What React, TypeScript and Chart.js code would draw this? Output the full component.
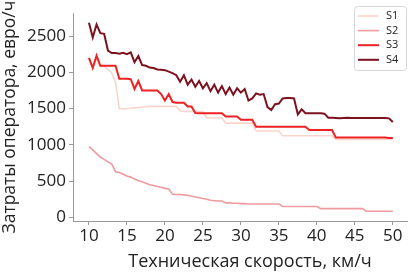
import React, { useEffect, useRef } from 'react';
import { Chart, registerables } from 'chart.js';

Chart.register(...registerables);

const speeds = [
  10, 10.5, 11, 11.5, 12, 12.5, 13, 13.5, 14, 14.5,
  15, 15.5, 16, 16.5, 17, 17.5, 18, 18.5, 19, 19.5,
  20, 20.5, 21, 21.5, 22, 22.5, 23, 23.5, 24, 24.5,
  25, 25.5, 26, 26.5, 27, 27.5, 28, 28.5, 29, 29.5,
  30, 30.5, 31, 31.5, 32, 32.5, 33, 33.5, 34, 34.5,
  35, 35.5, 36, 36.5, 37, 37.5, 38, 38.5, 39, 39.5,
  40, 40.5, 41, 41.5, 42, 42.5, 43, 43.5, 44, 44.5,
  45, 45.5, 46, 46.5, 47, 47.5, 48, 48.5, 49, 49.5,
  50,
];

const s1 = [
  2190, 2060, 2200, 2080, 2080, 2040, 1990, 1860, 1500, 1495,
  1500, 1505, 1510, 1515, 1520, 1525, 1530, 1530, 1530, 1530,
  1530, 1530, 1530, 1530, 1470, 1460, 1460, 1460, 1460, 1460,
  1460, 1370, 1370, 1370, 1370, 1370, 1300, 1300, 1300, 1300,
  1300, 1300, 1300, 1300, 1190, 1190, 1190, 1190, 1190, 1190,
  1190, 1125, 1125, 1125, 1125, 1125, 1125, 1125, 1125, 1125,
  1125, 1125, 1125, 1125, 1125, 1075, 1075, 1075, 1075, 1075,
  1075, 1075, 1075, 1075, 1075, 1075, 1075, 1075, 1075, 1075,
  1075,
];

const s2 = [
  975, 930, 880, 830, 800, 765, 735, 630, 620, 595,
  570, 555, 530, 505, 490, 470, 450, 440, 425, 415,
  400, 390, 320, 315, 315, 310, 305, 290, 280, 270,
  260, 250, 235, 230, 225, 225, 200, 200, 195, 195,
  190, 190, 185, 185, 185, 185, 185, 185, 185, 185,
  185, 150, 150, 150, 150, 150, 150, 150, 150, 150,
  150, 120, 120, 120, 120, 120, 120, 120, 120, 120,
  120, 120, 120, 85, 85, 85, 85, 85, 85, 85,
  85,
];

const s3 = [
  2200, 2060, 2230, 2090, 2090, 2090, 2090, 2090, 1910, 1910,
  1910, 1905, 1770, 1880, 1750, 1750, 1750, 1750, 1750, 1700,
  1610, 1700, 1590, 1580, 1580, 1580, 1530, 1530, 1440, 1435,
  1435, 1435, 1435, 1435, 1435, 1435, 1390, 1390, 1390, 1390,
  1345, 1345, 1345, 1345, 1250, 1250, 1250, 1250, 1250, 1250,
  1250, 1250, 1250, 1250, 1250, 1250, 1250, 1250, 1205, 1205,
  1205, 1205, 1205, 1205, 1205, 1100, 1100, 1100, 1100, 1100,
  1100, 1100, 1100, 1100, 1100, 1100, 1100, 1100, 1100, 1095,
  1095,
];

const s4 = [
  2685, 2480, 2660, 2540, 2530, 2300, 2265, 2265, 2255, 2270,
  2250, 2275, 2140, 2225, 2100, 2090, 2065, 2060, 2040, 2035,
  2030, 2010, 1990, 1960, 1870, 1960, 1830, 1900, 1800, 1880,
  1780, 1850, 1740, 1830, 1720, 1810, 1700, 1790, 1690, 1780,
  1720, 1770, 1610, 1640, 1710, 1690, 1700, 1520, 1480, 1560,
  1570, 1640, 1645, 1645, 1640, 1420, 1490, 1435, 1435, 1435,
  1435, 1435, 1430, 1375, 1375, 1370, 1365, 1370, 1375, 1370,
  1370, 1370, 1370, 1370, 1370, 1370, 1370, 1370, 1370, 1365,
  1315,
];

const seriesNames = ['S1', 'S2', 'S3', 'S4'];
const seriesValues = [s1, s2, s3, s4];
const seriesColors = ['#f9d6cc', '#ee9a9e', '#ee2222', '#7c1220'];
const seriesWidths = [1.6, 1.6, 2, 2];

const yTicks = [0, 500, 1000, 1500, 2000, 2500];
const xTicks = [10, 15, 20, 25, 30, 35, 40, 45, 50];

const xTitle = 'Техническая скорость, км/ч';
const yTitle = 'Затраты оператора, евро/ч';

const FONT = "'Open Sans', 'DejaVu Sans', sans-serif";
const AXIS_COLOR = '#9a9a9a';
const TEXT_COLOR = '#222222';

const legendPlugin = {
  id: 'insideLegend',
  afterDraw(chart: any) {
    const ctx = chart.ctx as CanvasRenderingContext2D;
    // x-axis title, centred under the full (uncropped) axes
    ctx.save();
    ctx.fillStyle = TEXT_COLOR;
    ctx.font = `18px ${FONT}`;
    ctx.textAlign = 'center';
    ctx.textBaseline = 'middle';
    ctx.fillText(xTitle, 250, 262);
    ctx.restore();

    const left = 354;
    const top = 6;
    const w = 52;
    const h = 64;
    ctx.save();
    ctx.fillStyle = 'rgba(255,255,255,0.85)';
    ctx.strokeStyle = '#d6d6d6';
    ctx.lineWidth = 1;
    const r = 3;
    ctx.beginPath();
    ctx.moveTo(left + r + 0.5, top + 0.5);
    ctx.lineTo(left + w - r + 0.5, top + 0.5);
    ctx.quadraticCurveTo(left + w + 0.5, top + 0.5, left + w + 0.5, top + r + 0.5);
    ctx.lineTo(left + w + 0.5, top + h - r + 0.5);
    ctx.quadraticCurveTo(left + w + 0.5, top + h + 0.5, left + w - r + 0.5, top + h + 0.5);
    ctx.lineTo(left + r + 0.5, top + h + 0.5);
    ctx.quadraticCurveTo(left + 0.5, top + h + 0.5, left + 0.5, top + h - r + 0.5);
    ctx.lineTo(left + 0.5, top + r + 0.5);
    ctx.quadraticCurveTo(left + 0.5, top + 0.5, left + r + 0.5, top + 0.5);
    ctx.closePath();
    ctx.fill();
    ctx.stroke();
    chart.data.datasets.forEach((ds: any, i: number) => {
      const y = top + 10 + i * 14.6;
      ctx.strokeStyle = ds.borderColor;
      ctx.lineWidth = ds.borderWidth;
      ctx.beginPath();
      ctx.moveTo(left + 4, y);
      ctx.lineTo(left + 25, y);
      ctx.stroke();
      ctx.fillStyle = TEXT_COLOR;
      ctx.font = `11px ${FONT}`;
      ctx.textBaseline = 'middle';
      ctx.textAlign = 'left';
      ctx.fillText(ds.label, left + 32, y);
    });
    ctx.restore();
  },
};

export default function App() {
  const canvasRef = useRef<HTMLCanvasElement | null>(null);

  useEffect(() => {
    if (!canvasRef.current) return;
    const datasets = seriesNames.map((name, i) => ({
      label: name,
      data: speeds.map((x, j) => ({ x, y: seriesValues[i][j] })),
      borderColor: seriesColors[i],
      backgroundColor: seriesColors[i],
      borderWidth: seriesWidths[i],
      pointRadius: 0,
      tension: 0,
      fill: false,
      order: 4 - i,
    }));
    const chart = new Chart(canvasRef.current, {
      type: 'line',
      data: { datasets },
      plugins: [legendPlugin],
      options: {
        animation: false,
        responsive: false,
        maintainAspectRatio: false,
        layout: { padding: { top: 3, right: 0, left: 0, bottom: 0 } },
        plugins: {
          legend: { display: false },
          tooltip: { enabled: false },
        },
        scales: {
          x: {
            type: 'linear',
            min: 7.9,
            max: 52,
            afterBuildTicks: (scale: any) => {
              scale.ticks = xTicks.map((v) => ({ value: v }));
            },
            afterFit: (scale: any) => {
              scale.height = 51;
            },
            grid: {
              display: true,
              drawOnChartArea: false,
              drawTicks: true,
              tickLength: 4,
              color: AXIS_COLOR,
            },
            border: { display: true, color: AXIS_COLOR, width: 1 },
            ticks: {
              color: TEXT_COLOR,
              font: { family: FONT, size: 17 },
              padding: 1,
              maxRotation: 0,
              autoSkip: false,
              callback: (v: any) => String(v),
            },
            title: { display: false },
          },
          y: {
            type: 'linear',
            min: -50,
            max: 2815,
            afterBuildTicks: (scale: any) => {
              scale.ticks = yTicks.map((v) => ({ value: v }));
            },
            afterFit: (scale: any) => {
              scale.width = 73;
            },
            grid: {
              display: true,
              drawOnChartArea: false,
              drawTicks: true,
              tickLength: 4,
              color: AXIS_COLOR,
            },
            border: { display: true, color: AXIS_COLOR, width: 1 },
            ticks: {
              color: TEXT_COLOR,
              font: { family: FONT, size: 17 },
              padding: 3,
              callback: (v: any) => String(v),
            },
            title: {
              display: true,
              text: yTitle,
              color: TEXT_COLOR,
              font: { family: FONT, size: 17.5 },
              padding: { top: 0, bottom: 0 },
            },
          },
        },
      },
    });
    return () => chart.destroy();
  }, []);

  return (
    <div style={{ position: 'fixed', left: 0, top: 0, width: 408, height: 272, background: '#ffffff' }}>
      <canvas ref={canvasRef} width={408} height={272} style={{ width: 408, height: 272 }} />
    </div>
  );
}
